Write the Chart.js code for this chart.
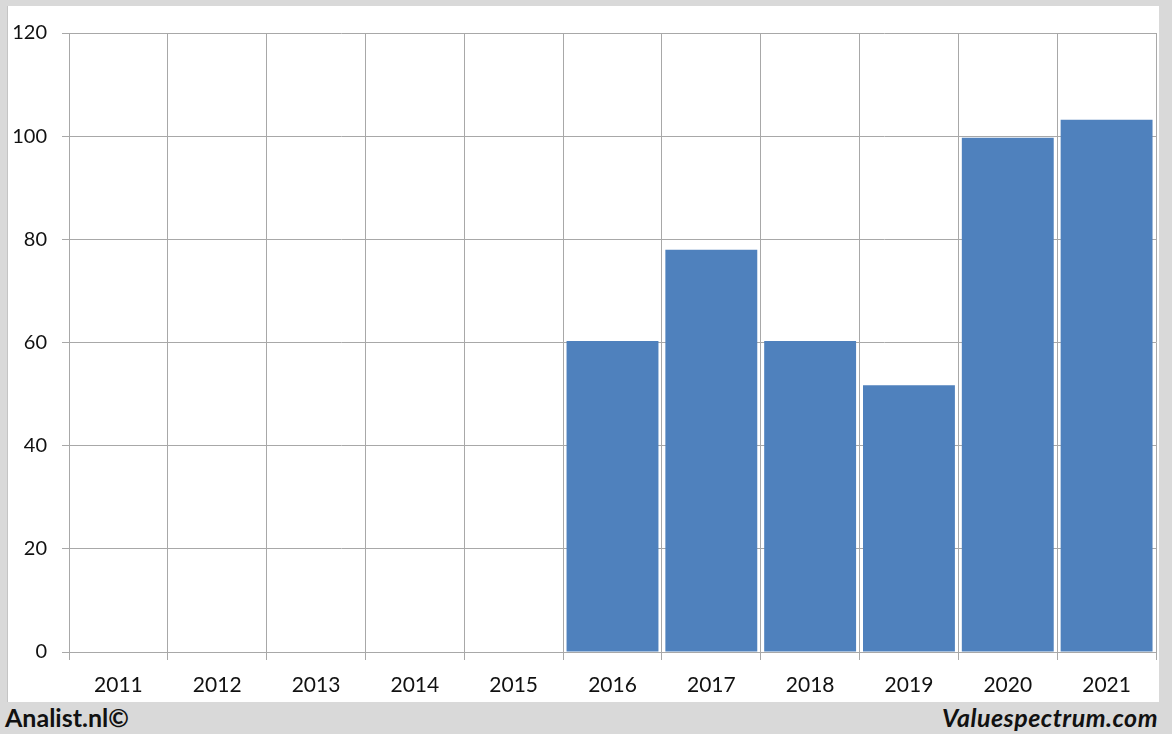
<!DOCTYPE html>
<html>
<head>
<meta charset="utf-8">
<script src="https://cdn.jsdelivr.net/npm/chart.js@4/dist/chart.umd.min.js"></script>
<style>
  html, body { margin: 0; padding: 0; }
  body { width: 1172px; height: 734px; background: #d9d9d9; position: relative; overflow: hidden; font-family: Lato, "Open Sans", sans-serif; }
  #panel { position: absolute; left: 8px; top: 6px; width: 1151px; height: 696px; background: #fff; box-shadow: -1px 0 0 #c4c4c4; }
  #panel canvas { display: block; }
  .foot { position: absolute; top: 702px; font-size: 25px; font-weight: 700; color: #111; line-height: 30px; }
  #left { left: 5px; }
  #right { right: 14px; font-style: italic; letter-spacing: 0.5px; }
</style>
</head>
<body>
<div id="panel"><canvas id="c" width="1151" height="696"></canvas></div>
<div class="foot" id="left">Analist.nl©</div>
<div class="foot" id="right">Valuespectrum.com</div>
<script>
// data
const years = ["2011", "2012", "2013", "2014", "2015", "2016", "2017", "2018", "2019", "2020", "2021"];
const values = [null, null, null, null, null, 60.3, 78.0, 60.3, 51.7, 99.7, 103.2];
const yTicks = [0, 20, 40, 60, 80, 100, 120];

const GRID = "#a8a8a8";
const yFont = { family: "Lato, 'Open Sans', sans-serif", size: 20 };
const xFont = { family: "Lato, 'Open Sans', sans-serif", size: 21 };

new Chart(document.getElementById("c"), {
  type: "bar",
  data: {
    labels: years,
    datasets: [{ data: values, backgroundColor: "#4f81bd", borderWidth: 0,
      barPercentage: 1, categoryPercentage: 0.93 }]
  },
  options: {
    responsive: false, animation: false,
    layout: { padding: { top: 27, right: 3, left: 0, bottom: 0 } },
    plugins: { legend: { display: false }, tooltip: { enabled: false } },
    scales: {
      x: {
        grid: { color: GRID, lineWidth: 1, tickLength: 8, offset: true },
        border: { color: GRID },
        ticks: { color: "#111", font: xFont, padding: 13, maxRotation: 0 },
        afterFit: s => { s.height = 50; }
      },
      y: {
        min: 0, max: 120,
        afterBuildTicks: s => { s.ticks = yTicks.map(v => ({ value: v })); },
        grid: { color: GRID, lineWidth: 1, tickLength: 7 },
        border: { color: GRID },
        ticks: { color: "#111", font: yFont, padding: 15 },
        afterFit: s => { s.width = 61; }
      }
    }
  }
});
</script>
</body>
</html>
